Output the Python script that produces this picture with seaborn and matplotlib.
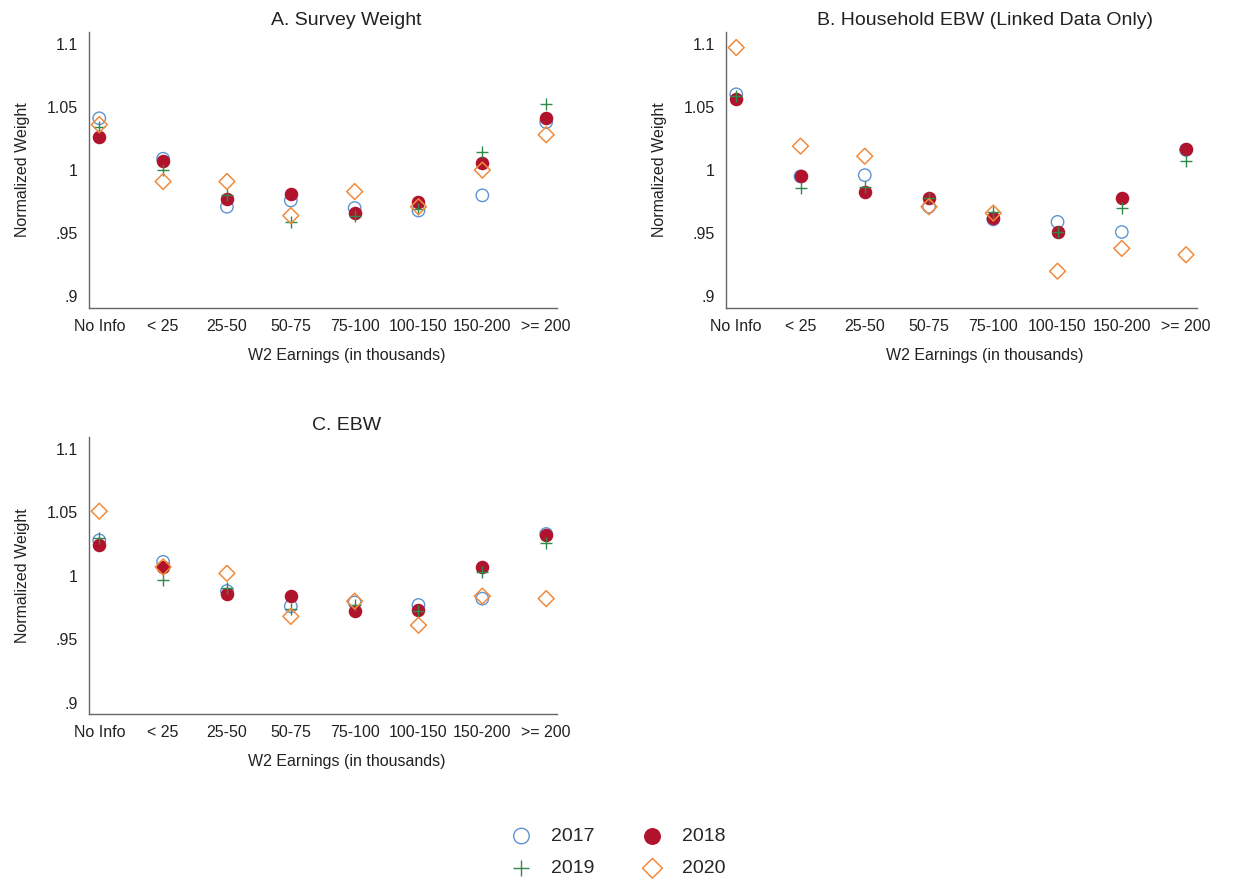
import matplotlib
matplotlib.use("Agg")
import matplotlib.pyplot as plt
import pandas as pd
import seaborn as sns

categories = ["No Info", "< 25", "25-50", "50-75", "75-100", "100-150", "150-200", ">= 200"]
years = ["2017", "2018", "2019", "2020"]

# panel A: survey weight
survey_2017 = [1.041, 1.009, 0.971, 0.976, 0.970, 0.968, 0.980, 1.038]
survey_2018 = [1.026, 1.007, 0.977, 0.981, 0.966, 0.975, 1.006, 1.041]
survey_2019 = [1.034, 1.000, 0.980, 0.959, 0.964, 0.969, 1.014, 1.052]
survey_2020 = [1.036, 0.991, 0.991, 0.964, 0.983, 0.971, 1.000, 1.028]

# panel B: household EBW
hh_2017 = [1.060, 0.995, 0.996, 0.971, 0.961, 0.959, 0.951, 1.016]
hh_2018 = [1.056, 0.995, 0.983, 0.978, 0.962, 0.951, 0.978, 1.017]
hh_2019 = [1.059, 0.986, 0.987, 0.978, 0.967, 0.951, 0.970, 1.007]
hh_2020 = [1.097, 1.019, 1.011, 0.971, 0.966, 0.920, 0.938, 0.933]

# panel C: EBW
ebw_2017 = [1.028, 1.011, 0.988, 0.976, 0.979, 0.977, 0.982, 1.033]
ebw_2018 = [1.024, 1.007, 0.986, 0.984, 0.972, 0.973, 1.007, 1.032]
ebw_2019 = [1.030, 0.997, 0.990, 0.974, 0.977, 0.972, 1.003, 1.026]
ebw_2020 = [1.051, 1.007, 1.002, 0.968, 0.980, 0.961, 0.984, 0.982]

titles = ["A. Survey Weight", "B. Household EBW (Linked Data Only)", "C. EBW"]
y_ticks = [0.9, 0.95, 1.0, 1.05, 1.1]
y_ticklabels = [".9", ".95", "1", "1.05", "1.1"]

panels = [
    [survey_2017, survey_2018, survey_2019, survey_2020],
    [hh_2017, hh_2018, hh_2019, hh_2020],
    [ebw_2017, ebw_2018, ebw_2019, ebw_2020],
]

colors = {"2017": "#5f93d3", "2018": "#b0132b", "2019": "#2f8a4c", "2020": "#f28a3c"}
styles = {
    "2017": dict(marker="o", s=80, facecolors="none", linewidth=1.0),
    "2018": dict(marker="o", s=95, linewidth=0),
    "2019": dict(marker="+", s=80, linewidth=1.0),
    "2020": dict(marker="D", s=65, facecolors="none", linewidth=1.1),
}

sns.set_theme(style="white")
plt.rcParams["font.family"] = ["Liberation Sans", "DejaVu Sans"]

fig = plt.figure(figsize=(12.56, 8.82), dpi=100)
rects = [
    [0.0709, 0.651, 0.3726, 0.313],
    [0.578, 0.651, 0.375, 0.313],
    [0.0709, 0.1905, 0.3726, 0.314],
]

handles = {}
for rect, title, series in zip(rects, titles, panels):
    ax = fig.add_axes(rect)
    for year, vals in zip(years, series):
        df = pd.DataFrame({"cat": categories, "val": vals})
        kw = dict(styles[year])
        if kw.get("facecolors") == "none":
            kw["edgecolor"] = colors[year]
        else:
            kw["color"] = colors[year]
        sns.scatterplot(data=df, x="cat", y="val", ax=ax, label=year, legend=False, **kw)
    ax.set_xlim(-0.16, 7.17)
    ax.set_ylim(0.891, 1.1095)
    ax.set_yticks(y_ticks)
    ax.set_yticklabels(y_ticklabels)
    ax.tick_params(axis="both", labelsize=11.5, length=0, pad=8, colors="#222222")
    ax.set_xlabel("W2 Earnings (in thousands)", fontsize=11.5, color="#222222")
    ax.set_ylabel("Normalized Weight", fontsize=11.5, labelpad=12, color="#222222")
    ax.set_title(title, fontsize=14, color="#222222", pad=5, x=0.55)
    ax.xaxis.set_label_coords(0.55, -0.145)
    sns.despine(ax=ax)
    for side in ["left", "bottom"]:
        ax.spines[side].set_color("#666666")
        ax.spines[side].set_linewidth(1.0)
    for coll, year in zip(ax.collections, years):
        handles[year] = coll

order = ["2017", "2019", "2018", "2020"]
fig.legend([handles[y] for y in order], order, loc="center", bbox_to_anchor=(0.4885, 0.0335),
           ncol=2, frameon=False, fontsize=14, columnspacing=2.0, handletextpad=0.5,
           labelspacing=0.75, markerscale=1.25)

fig.savefig("out.png", dpi=100)
